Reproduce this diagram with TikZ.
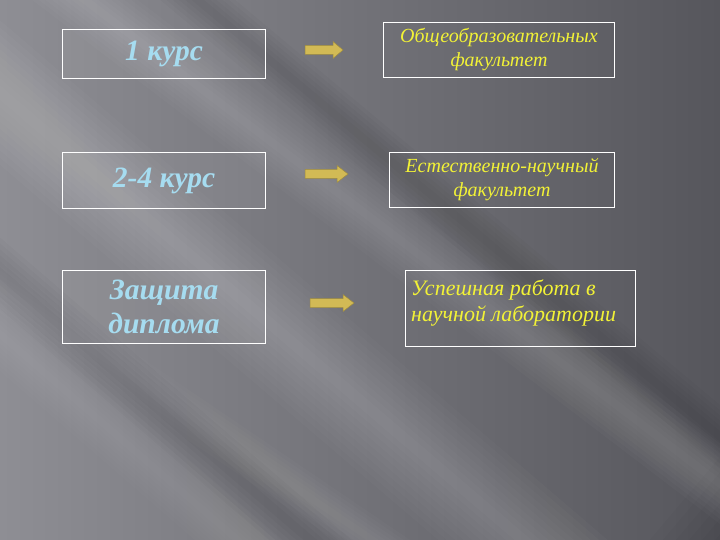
\documentclass[tikz,border=0pt]{standalone}
\usepackage{fontspec}
\setmainfont{Liberation Serif}
\definecolor{bgbase}{HTML}{56565C}
\definecolor{bglight}{HTML}{8E8E94}
\definecolor{lefttext}{HTML}{A6DCF0}
\definecolor{righttext}{HTML}{F2F236}
\definecolor{arrowgold}{HTML}{D2BA55}
\begin{document}
\begin{tikzpicture}[x=1pt,y=-1pt,
  leftbox/.style={draw=white, line width=1.1pt, fill=white, fill opacity=0.05, text opacity=1,
     inner sep=0pt, anchor=north west, align=center, text=lefttext,
     font=\fontsize{29.5}{34}\selectfont\bfseries\itshape},
  rightbox/.style={draw=white, line width=1pt, inner sep=0pt, anchor=north west,
     align=center, text=righttext, font=\fontsize{20}{24}\selectfont\itshape},
  goldarrow/.style={fill=arrowgold, draw=arrowgold!75!black, line width=0.5pt, line join=miter},
]
% background
\fill[bgbase] (0,0) rectangle (720,540);
\shade[left color=bglight, right color=bgbase] (0,0) rectangle (720,540);
\begin{scope}
\clip (0,0) rectangle (720,540);
% light bands (soft edges by stacking)
\foreach \i in {1,...,10}
  \draw[white, opacity=0.018, line width=11*\i pt] (-120,-10) -- (640,640);
\foreach \i in {1,...,8}
  \draw[white, opacity=0.018, line width=8*\i pt] (-20,-80) -- (820,560);
\foreach \i in {1,...,8}
  \draw[white, opacity=0.016, line width=7*\i pt] (-120,230) -- (330,620);
\foreach \i in {1,...,6}
  \draw[white, opacity=0.016, line width=7*\i pt] (-40,260) -- (520,640);
% darker streaks
\foreach \i in {1,...,6}
  \draw[black, opacity=0.02, line width=8*\i pt] (150,-40) -- (820,520);
\foreach \i in {1,...,6}
  \draw[black, opacity=0.018, line width=9*\i pt] (-120,170) -- (380,600);
\foreach \i in {1,...,8}
  \draw[black, opacity=0.016, line width=20*\i pt] (1000,250) -- (450,900);
\end{scope}
\useasboundingbox (0,0) rectangle (720,540);

% left boxes
\node[leftbox, minimum width=203pt, minimum height=49pt] (l1) at (62,29) {1 курс};
\node[leftbox, minimum width=203pt, minimum height=56pt] (l2) at (62,152) {2-4 курс};
\node[leftbox, minimum width=203pt, minimum height=73pt] (l3) at (62,270) {Защита\\диплома};

% right boxes
\node[rightbox, minimum width=231pt, minimum height=55pt] (r1) at (383,22) {Общеобразовательных\\факультет};
\node[rightbox, minimum width=225pt, minimum height=55pt] (r2) at (389,152) {Естественно-научный\\факультет};
\node[draw=white, line width=1pt, inner sep=0pt, anchor=north west, minimum width=230pt,
      minimum height=76pt] (r3) at (405,270) {};
\node[anchor=north west, align=left, text=righttext, inner sep=0pt,
      font=\fontsize{22}{26}\selectfont\itshape] (r3t) at (411,280) {Успешная работа в\\научной лаборатории};

% arrows
\coordinate (a1) at (305,50);
\coordinate (a2) at (305,174);
\coordinate (a3) at (310,303);
\filldraw[goldarrow] (a1) ++(0,-4.5) -- ++(28,0) -- ++(0,-4) -- ++(10,8.5) -- ++(-10,8.5) -- ++(0,-4) -- ++(-28,0) -- cycle;
\filldraw[goldarrow] (a2) ++(0,-4.5) -- ++(32,0) -- ++(0,-4) -- ++(11,8.5) -- ++(-11,8.5) -- ++(0,-4) -- ++(-32,0) -- cycle;
\filldraw[goldarrow] (a3) ++(0,-4.5) -- ++(33,0) -- ++(0,-4) -- ++(11,8.5) -- ++(-11,8.5) -- ++(0,-4) -- ++(-33,0) -- cycle;
\end{tikzpicture}
\end{document}
